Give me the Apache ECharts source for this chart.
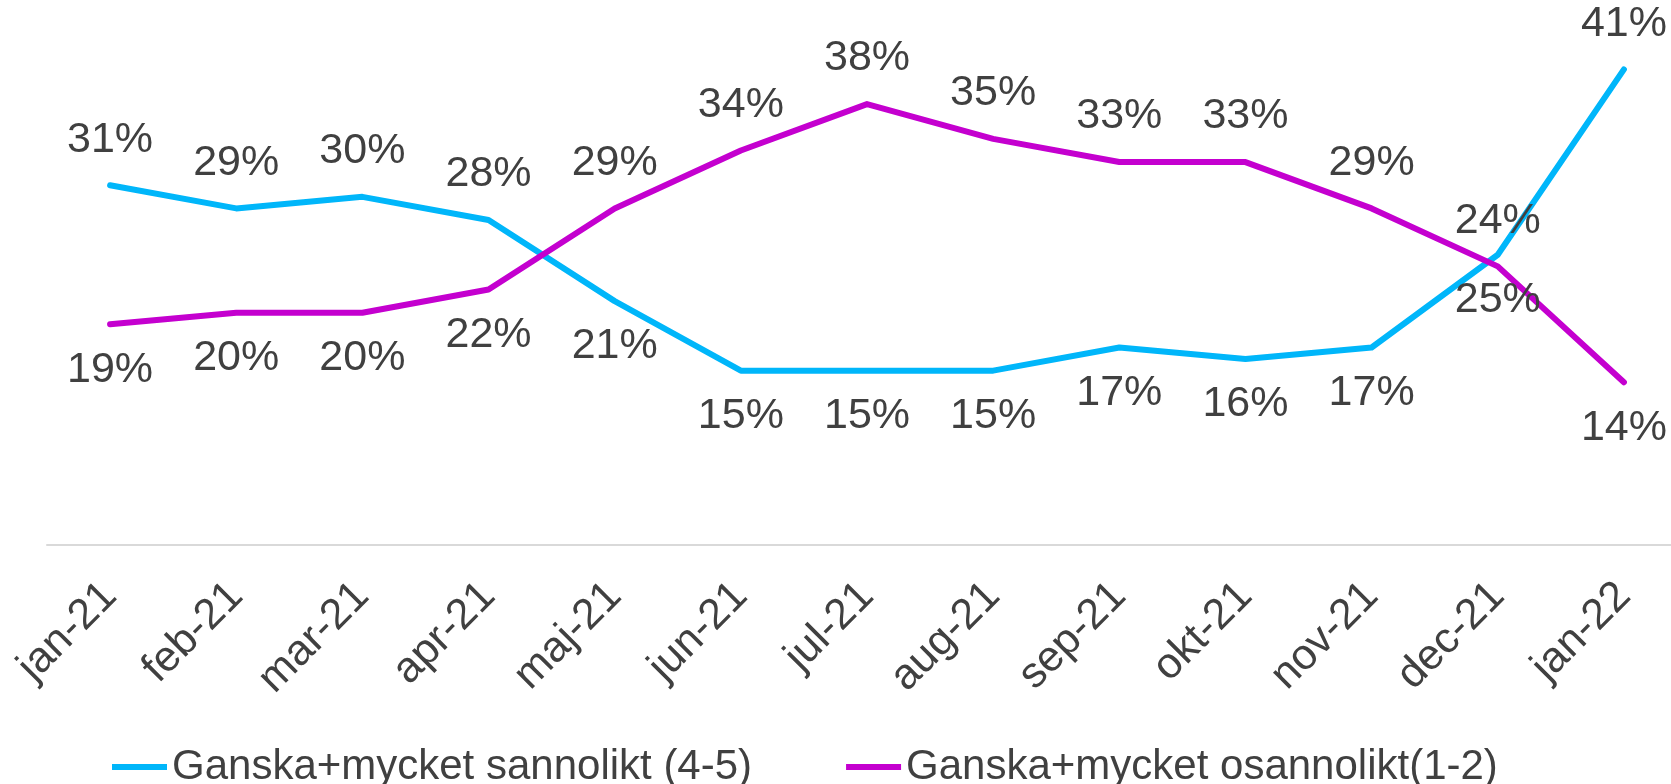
<!DOCTYPE html>
<html>
<head>
<meta charset="utf-8">
<script src="https://cdn.jsdelivr.net/npm/echarts@6/dist/echarts.min.js"></script>
<style>
html,body{margin:0;padding:0;background:#fff;}
#chart{width:1671px;height:784px;}
</style>
</head>
<body>
<div id="chart"></div>
<script>
const categories = ['jan-21','feb-21','mar-21','apr-21','maj-21','jun-21','jul-21','aug-21','sep-21','okt-21','nov-21','dec-21','jan-22'];
const seriesNames = ['Ganska+mycket sannolikt (4-5)', 'Ganska+mycket osannolikt(1-2)'];
const likelyValues = [31, 29, 30, 28, 21, 15, 15, 15, 17, 16, 17, 25, 41];
const unlikelyValues = [19, 20, 20, 22, 29, 34, 38, 35, 33, 33, 29, 24, 14];

// label placement per point (presentation only)
const likelyLabelPos = ['top','top','top','top','bottom','bottom','bottom','bottom','bottom','bottom','bottom','bottom','top'];
const unlikelyLabelPos = ['bottom','bottom','bottom','bottom','top','top','top','top','top','top','top','top','bottom'];

const textColor = '#404040';
const font = 'Liberation Sans, Arial, sans-serif';

function buildData(values, positions) {
  return values.map((v, i) => ({
    value: v,
    label: { position: positions[i] }
  }));
}

const chart = echarts.init(document.getElementById('chart'), null, {renderer: 'canvas'});
chart.setOption({
  animation: false,
  backgroundColor: '#ffffff',
  grid: { left: 47, top: 23, width: 1640, height: 521.5, containLabel: false, outerBoundsMode: 'none' },
  legend: {
    left: 107,
    top: 741,
    itemWidth: 55,
    itemHeight: 6,
    itemGap: 94,
    icon: 'rect',
    textStyle: { fontSize: 42, color: textColor, fontFamily: font, padding: [0,0,0,0] },
    data: seriesNames
  },
  xAxis: {
    type: 'category',
    data: categories,
    boundaryGap: true,
    axisLine: { show: true, lineStyle: { color: '#d9d9d9', width: 2 } },
    axisTick: { show: false },
    axisLabel: { rotate: 45, margin: 45, fontSize: 43, color: textColor, fontFamily: font, interval: 0 },
    splitLine: { show: false }
  },
  yAxis: {
    type: 'value',
    min: 0,
    max: 45,
    show: false,
    splitLine: { show: false }
  },
  series: [
    {
      name: seriesNames[0],
      type: 'line',
      data: buildData(likelyValues, likelyLabelPos),
      symbol: 'circle',
      symbolSize: 0,
      showSymbol: true,
      color: '#00B6FA',
      lineStyle: { width: 6, color: '#00B6FA', join: 'round', cap: 'round' },
      itemStyle: { color: '#00B6FA' },
      label: {
        show: true, distance: 24, fontSize: 43, color: textColor, fontFamily: font,
        formatter: p => p.value + '%'
      },
      emphasis: { disabled: true }
    },
    {
      name: seriesNames[1],
      type: 'line',
      data: buildData(unlikelyValues, unlikelyLabelPos),
      symbol: 'circle',
      symbolSize: 0,
      showSymbol: true,
      color: '#C400CF',
      lineStyle: { width: 6, color: '#C400CF', join: 'round', cap: 'round' },
      itemStyle: { color: '#C400CF' },
      label: {
        show: true, distance: 24, fontSize: 43, color: textColor, fontFamily: font,
        formatter: p => p.value + '%'
      },
      emphasis: { disabled: true }
    }
  ]
});
</script>
</body>
</html>
